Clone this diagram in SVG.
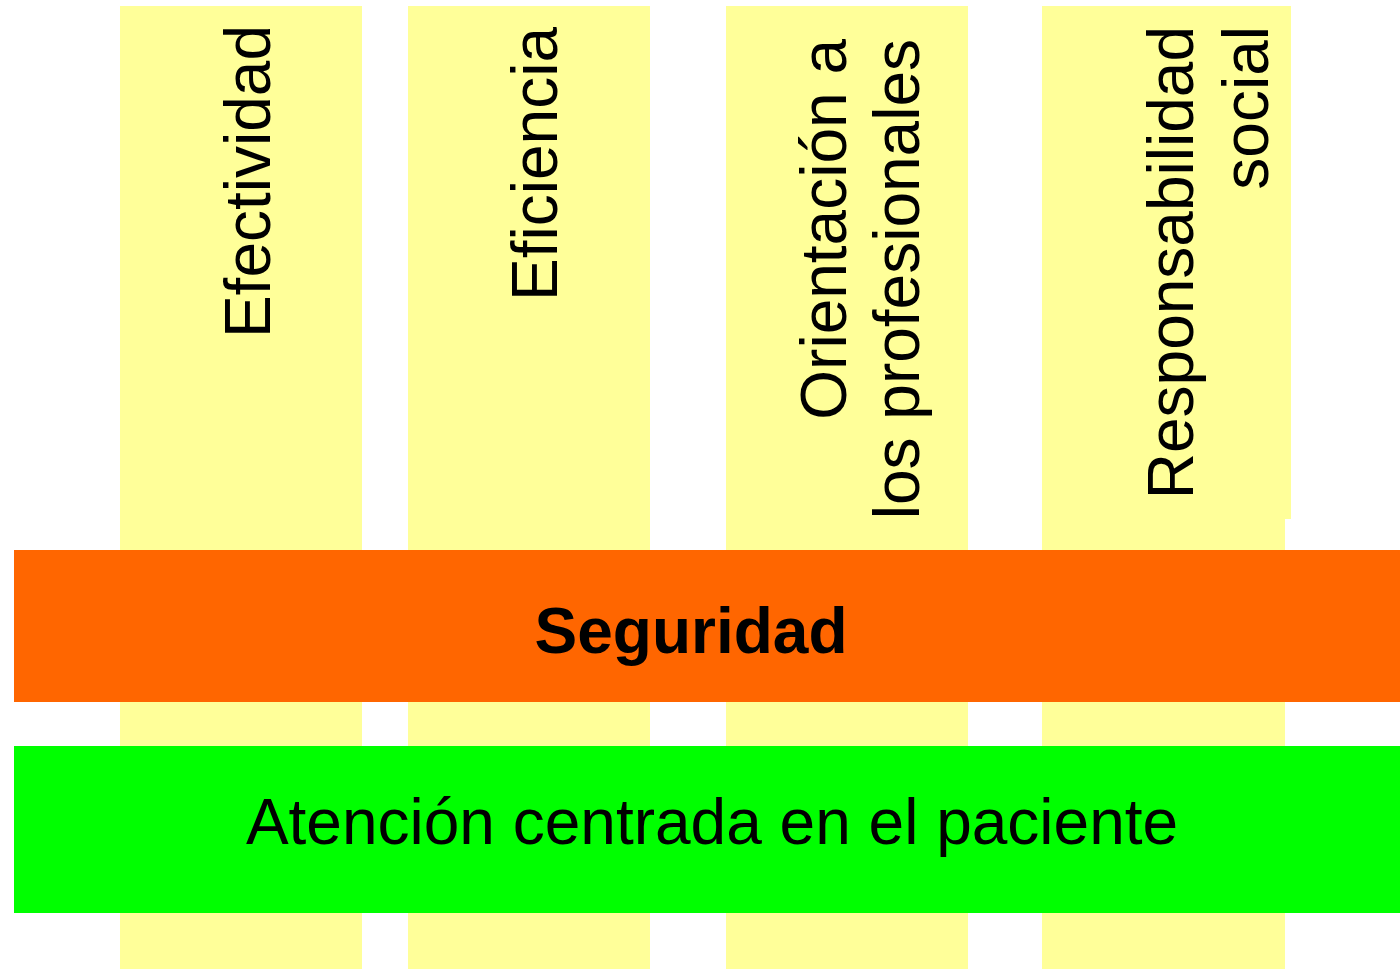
<svg xmlns="http://www.w3.org/2000/svg" width="1400" height="970" viewBox="0 0 1400 970">
<style>
.col{fill:#FFFF99}
.t{font-family:"Liberation Sans",Arial,sans-serif;font-size:64px;fill:#000}
.v{text-anchor:end}
</style>
<rect width="1400" height="970" fill="#fff"/>
<g id="col-efectividad">
<rect class="col" x="120" y="6" width="242" height="963"/>
<text class="t v" transform="translate(270,25) rotate(-90)">Efectividad</text>
</g>
<g id="col-eficiencia">
<rect class="col" x="408" y="6" width="242" height="963"/>
<text class="t v" transform="translate(557,27) rotate(-90)">Eficiencia</text>
</g>
<g id="col-orientacion">
<rect class="col" x="726" y="6" width="242" height="963"/>
<text class="t v" transform="translate(846,39) rotate(-90)">Orientación a</text>
<text class="t v" transform="translate(919,39) rotate(-90)">los profesionales</text>
</g>
<g id="col-responsabilidad">
<rect class="col" x="1042" y="6" width="243" height="963"/>
<rect class="col" x="1284" y="6" width="7" height="513"/>
<text class="t v" transform="translate(1193,26) rotate(-90)">Responsabilidad</text>
<text class="t v" transform="translate(1268,26) rotate(-90)">social</text>
</g>
<g id="bar-seguridad">
<rect x="14" y="550" width="1386" height="152" fill="#FF6600"/>
<text class="t" x="691" y="653" text-anchor="middle" font-weight="bold" font-size="63">Seguridad</text>
</g>
<g id="bar-atencion">
<rect x="14" y="746" width="1386" height="167" fill="#00FF00"/>
<text class="t" x="712" y="844" text-anchor="middle">Atención centrada en el paciente</text>
</g>
<g id="connectors"/>
</svg>
